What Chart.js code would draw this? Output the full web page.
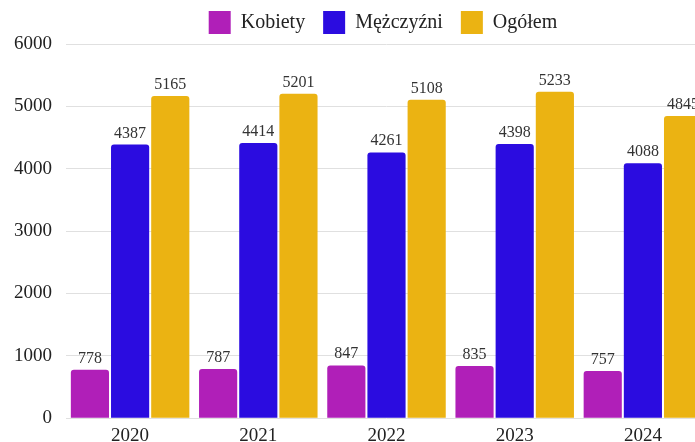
<!DOCTYPE html>
<html>
<head>
<meta charset="utf-8">
<script src="https://cdn.jsdelivr.net/npm/chart.js@4"></script>
<style>
  html, body { margin: 0; padding: 0; background: #fff; overflow: hidden; }
  #wrap { width: 720px; height: 453px; position: relative; }
</style>
</head>
<body>
<div id="wrap"><canvas id="chart"></canvas></div>
<script>
const years = ["2020", "2021", "2022", "2023", "2024"];
const kobiety = [778, 787, 847, 835, 757];
const mezczyzni = [4387, 4414, 4261, 4398, 4088];
const ogolem = [5165, 5201, 5108, 5233, 4845];
const yTicks = [0, 1000, 2000, 3000, 4000, 5000, 6000];

const serif = "'Liberation Serif', 'DejaVu Serif', serif";

// draws the value above each bar
const valueLabels = {
  id: "valueLabels",
  afterDatasetsDraw(chart) {
    const ctx = chart.ctx;
    ctx.save();
    ctx.font = "16px " + serif;
    ctx.fillStyle = "#333";
    ctx.textAlign = "center";
    ctx.textBaseline = "alphabetic";
    chart.data.datasets.forEach((ds, i) => {
      chart.getDatasetMeta(i).data.forEach((bar, j) => {
        ctx.fillText(ds.data[j], bar.x, bar.y - 7);
      });
    });
    ctx.restore();
  }
};

// the legend of the original sits a bit right of the padded area centre
const legendShift = {
  id: "legendShift",
  afterUpdate(chart) {
    const lg = chart.legend;
    const mid = (lg.left + lg.right) / 2;
    const d = 383 - mid;
    lg.left += d;
    lg.right += d;
    lg.legendHitBoxes.forEach(b => { b.left += d; });
  }
};

new Chart(document.getElementById("chart"), {
  type: "bar",
  data: {
    labels: years,
    datasets: [
      { label: "Kobiety", data: kobiety, backgroundColor: "#b01fb8" },
      { label: "Mężczyźni", data: mezczyzni, backgroundColor: "#2b0ce0" },
      { label: "Ogółem", data: ogolem, backgroundColor: "#ebb312" }
    ]
  },
  options: {
    responsive: true,
    maintainAspectRatio: false,
    animation: false,
    layout: { padding: { left: 0, right: 13, top: -7, bottom: 0 } },
    datasets: {
      bar: {
        categoryPercentage: 0.94,
        barPercentage: 0.95,
        borderRadius: 3,
        borderSkipped: "bottom"
      }
    },
    plugins: {
      legend: {
        labels: {
          font: { family: serif, size: 20 },
          color: "#222",
          boxWidth: 22,
          boxHeight: 23,
          padding: 18
        }
      },
      tooltip: { enabled: false }
    },
    scales: {
      x: {
        grid: { display: false, drawTicks: false },
        border: { display: false },
        ticks: { font: { family: serif, size: 19 }, color: "#222", padding: 6 }
      },
      y: {
        min: 0,
        max: 6000,
        afterBuildTicks(axis) { axis.ticks = yTicks.map(v => ({ value: v })); },
        grid: { color: "#e0e0e0", drawTicks: false },
        border: { display: false },
        ticks: {
          font: { family: serif, size: 19 },
          color: "#222",
          padding: 14,
          callback: v => String(v)
        }
      }
    }
  },
  plugins: [valueLabels, legendShift]
});
</script>
</body>
</html>
